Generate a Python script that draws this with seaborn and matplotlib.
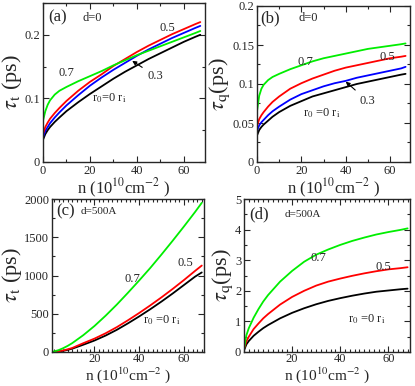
import numpy as np
import pandas as pd
import matplotlib
matplotlib.use("Agg")
import matplotlib.pyplot as plt
import seaborn as sns
from matplotlib.ticker import MultipleLocator

sns.set_style("ticks")
plt.rcParams['font.family'] = ['Liberation Serif', 'DejaVu Serif']
plt.rcParams['mathtext.fontset'] = 'stix'

# ---- data ----
colors = {"0": "black", "0.3": "#0000ff", "0.5": "#ff0000", "0.7": "#00ee00"}

# (a) tau_t, d=0
n_ab = [0, 1, 2, 3, 5, 7, 10, 15, 20, 25, 30, 35, 40, 45, 50, 55, 60, 65, 67]
a_black = [0.035, 0.044, 0.050, 0.055, 0.063, 0.070, 0.080, 0.094, 0.107, 0.119,
           0.131, 0.142, 0.152, 0.162, 0.171, 0.180, 0.189, 0.197, 0.200]
a_blue = [0.039, 0.049, 0.055, 0.061, 0.070, 0.078, 0.089, 0.105, 0.120, 0.133,
          0.145, 0.156, 0.167, 0.177, 0.186, 0.195, 0.203, 0.211, 0.214]
a_red = [0.044, 0.055, 0.062, 0.068, 0.077, 0.085, 0.096, 0.112, 0.126, 0.138,
         0.151, 0.162, 0.173, 0.183, 0.192, 0.201, 0.209, 0.217, 0.220]
a_green = [0.065, 0.080, 0.090, 0.097, 0.106, 0.112, 0.118, 0.127, 0.135, 0.143,
           0.152, 0.160, 0.168, 0.175, 0.182, 0.189, 0.196, 0.203, 0.206]

# (b) tau_q, d=0
b_black = [0.034, 0.041, 0.045, 0.048, 0.053, 0.058, 0.064, 0.072, 0.078, 0.084,
           0.088, 0.092, 0.096, 0.100, 0.103, 0.106, 0.109, 0.112, 0.113]
b_blue = [0.040, 0.047, 0.051, 0.054, 0.060, 0.065, 0.071, 0.080, 0.087, 0.092,
          0.097, 0.101, 0.104, 0.108, 0.111, 0.114, 0.117, 0.120, 0.122]
b_red = [0.046, 0.055, 0.060, 0.064, 0.071, 0.077, 0.084, 0.094, 0.101, 0.107,
         0.112, 0.117, 0.121, 0.124, 0.127, 0.130, 0.133, 0.135, 0.136]
b_green = [0.065, 0.085, 0.094, 0.099, 0.105, 0.109, 0.113, 0.119, 0.124, 0.129,
           0.133, 0.136, 0.139, 0.142, 0.145, 0.147, 0.149, 0.151, 0.152]

# (c) tau_t, d=500A
n_c = [1, 2, 4, 6, 8, 10, 15, 20, 25, 30, 35, 40, 45, 50, 55, 60, 65, 68]
c_black = [0, 1, 6, 15, 28, 43, 95, 150, 215, 290, 375, 465, 560, 660, 765, 875, 985, 1040]
c_red = [0, 2, 9, 20, 35, 52, 115, 175, 245, 325, 415, 510, 610, 715, 825, 940, 1060, 1130]
c_green = [3, 8, 25, 50, 80, 115, 220, 340, 475, 620, 775, 935, 1100, 1275, 1455, 1640, 1830, 1950]

# (d) tau_q, d=500A
n_d = [0, 1, 2, 4, 6, 8, 10, 15, 20, 25, 30, 35, 40, 45, 50, 55, 60, 65, 68]
d_black = [0.05, 0.25, 0.36, 0.53, 0.66, 0.78, 0.88, 1.10, 1.28, 1.43, 1.56, 1.67,
           1.76, 1.84, 1.91, 1.97, 2.01, 2.05, 2.07]
d_red = [0.10, 0.35, 0.50, 0.75, 0.93, 1.10, 1.24, 1.55, 1.80, 2.00, 2.17, 2.30,
         2.40, 2.49, 2.57, 2.64, 2.70, 2.74, 2.77]
d_green = [0.10, 0.55, 0.78, 1.12, 1.40, 1.65, 1.86, 2.30, 2.65, 2.95, 3.18, 3.35,
           3.50, 3.63, 3.74, 3.84, 3.92, 3.99, 4.04]


def long_df(n, curves):
    rows = []
    for name, vals in curves.items():
        for x, y in zip(n, vals):
            rows.append({"n": x, "tau": y, "r0": name})
    return pd.DataFrame(rows)


df_a = long_df(n_ab, {"0": a_black, "0.3": a_blue, "0.5": a_red, "0.7": a_green})
df_b = long_df(n_ab, {"0": b_black, "0.3": b_blue, "0.5": b_red, "0.7": b_green})
df_c = long_df(n_c, {"0": c_black, "0.5": c_red, "0.7": c_green})
df_d = long_df(n_d, {"0": d_black, "0.5": d_red, "0.7": d_green})

W, H = 415, 386
fig = plt.figure(figsize=(W / 100, H / 100), dpi=100)


def box(l, t, r, b):
    return [l / W, 1 - b / H, (r - l) / W, (b - t) / H]


ax_a = fig.add_axes(box(43, 3, 205, 162))
ax_b = fig.add_axes(box(257, 6, 410, 162))
ax_c = fig.add_axes(box(52, 199, 204, 352))
ax_d = fig.add_axes(box(244, 199, 410, 352))

xlab = r"n (10$^{10}$cm$^{-2}$ )"
r0lab = r"r$_0$=0 r$_\mathrm{i}$"
r0lab2 = r"r$_0$ =0 r$_\mathrm{i}$"

for ax, df in [(ax_a, df_a), (ax_b, df_b), (ax_c, df_c), (ax_d, df_d)]:
    sns.lineplot(data=df, x="n", y="tau", hue="r0", palette=colors, legend=False,
                 ax=ax, linewidth=1.3, sort=True)
    ax.tick_params(which="both", direction="in", top=True, right=True,
                   labelsize=9, pad=2, width=0.8)
    ax.tick_params(which="major", length=4)
    ax.tick_params(which="minor", length=2)
    for s in ax.spines.values():
        s.set_linewidth(1.0)

for ax in (ax_a, ax_b):
    ax.set_xlabel(xlab, fontsize=12, labelpad=0)
for ax in (ax_c, ax_d):
    ax.tick_params(axis="x", pad=1)
    ax.set_xlabel(xlab, fontsize=11, labelpad=0)

# panel (a)
ax_a.set_xlim(0, 69)
ax_a.set_ylim(0, 0.25)
ax_a.set_xticks([0, 20, 40, 60])
ax_a.set_yticks([0, 0.1, 0.2])
ax_a.set_yticklabels(["0", "0.1", "0.2"])
ax_a.xaxis.set_minor_locator(MultipleLocator(10))
ax_a.yaxis.set_minor_locator(MultipleLocator(0.05))
ax_a.set_ylabel(r"$\tau_\mathrm{t}$ (ps)", fontsize=16, labelpad=0)
ax_a.text(6, 0.227, "(a)", fontsize=12, ha="center", va="center")
ax_a.text(21, 0.227, "d=0", fontsize=9, ha="center", va="center")
ax_a.text(53, 0.211, "0.5", fontsize=9, ha="center", va="center")
ax_a.text(10, 0.140, "0.7", fontsize=9, ha="center", va="center")
ax_a.text(28, 0.101, r0lab, fontsize=9, ha="center", va="center")
ax_a.annotate("0.3", xy=(38, 0.159), xytext=(48, 0.135), fontsize=9,
              ha="center", va="center",
              arrowprops=dict(arrowstyle="-|>", color="black", lw=0.8,
                              mutation_scale=6, shrinkA=2, shrinkB=0))

# panel (b)
ax_b.set_xlim(0, 69)
ax_b.set_ylim(0, 0.2)
ax_b.set_xticks([0, 20, 40, 60])
ax_b.set_yticks([0, 0.05, 0.1, 0.15, 0.2])
ax_b.set_yticklabels(["0", "0.05", "0.1", "0.15", "0.2"])
ax_b.xaxis.set_minor_locator(MultipleLocator(10))
ax_b.yaxis.set_minor_locator(MultipleLocator(0.025))
ax_b.set_ylabel(r"$\tau_\mathrm{q}$(ps)", fontsize=16, labelpad=0)
ax_b.text(6, 0.184, "(b)", fontsize=12, ha="center", va="center")
ax_b.text(23, 0.184, "d=0", fontsize=9, ha="center", va="center")
ax_b.text(22, 0.128, "0.7", fontsize=9, ha="center", va="center")
ax_b.text(59, 0.134, "0.5", fontsize=9, ha="center", va="center")
ax_b.text(29, 0.063, r0lab2, fontsize=9, ha="center", va="center")
ax_b.annotate("0.3", xy=(40, 0.103), xytext=(50, 0.078), fontsize=9,
              ha="center", va="center",
              arrowprops=dict(arrowstyle="-|>", color="black", lw=0.8,
                              mutation_scale=6, shrinkA=2, shrinkB=0))

# panel (c)
ax_c.set_xlim(1, 69)
ax_c.set_ylim(0, 2000)
ax_c.set_xticks([20, 40, 60])
ax_c.set_yticks([0, 500, 1000, 1500, 2000])
ax_c.xaxis.set_minor_locator(MultipleLocator(2))
ax_c.yaxis.set_minor_locator(MultipleLocator(250))
ax_c.set_ylabel(r"$\tau_\mathrm{t}$ (ps)", fontsize=16, labelpad=0)
ax_c.text(7, 1832, "(c)", fontsize=12, ha="center", va="center")
ax_c.text(22, 1832, "d=500A", fontsize=8, ha="center", va="center")
ax_c.text(37, 950, "0.7", fontsize=9, ha="center", va="center")
ax_c.text(60.5, 1165, "0.5", fontsize=9, ha="center", va="center")
ax_c.text(50, 413, r0lab2, fontsize=9, ha="center", va="center")

# panel (d)
ax_d.set_xlim(0, 69)
ax_d.set_ylim(0, 5)
ax_d.set_xticks([20, 40, 60])
ax_d.set_yticks([0, 1, 2, 3, 4, 5])
ax_d.xaxis.set_minor_locator(MultipleLocator(2))
ax_d.yaxis.set_minor_locator(MultipleLocator(0.5))
ax_d.set_ylabel(r"$\tau_\mathrm{q}$(ps)", fontsize=16, labelpad=0)
ax_d.text(6.2, 4.49, "(d)", fontsize=12, ha="center", va="center")
ax_d.text(24.5, 4.49, "d=500A", fontsize=8, ha="center", va="center")
ax_d.text(31, 3.08, "0.7", fontsize=9, ha="center", va="center")
ax_d.text(58, 2.78, "0.5", fontsize=9, ha="center", va="center")
ax_d.text(51, 1.06, r0lab2, fontsize=9, ha="center", va="center")

fig.savefig("out.png", dpi=100)
